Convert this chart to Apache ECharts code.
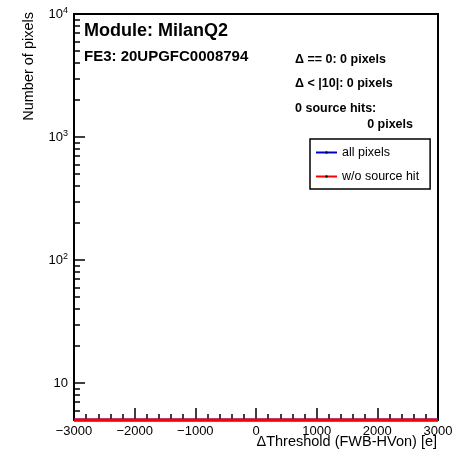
<!DOCTYPE html>
<html>
<head>
<meta charset="utf-8">
<script src="https://cdn.jsdelivr.net/npm/echarts@6/dist/echarts.min.js"></script>
<style>
  html, body { margin: 0; padding: 0; background: #fff; }
  #chart { width: 460px; height: 459px; }
</style>
</head>
<body>
<div id="chart"></div>
<script>
// histogram contents: both histograms are empty
const binEdges = [-3000, -2000, -1000, 0, 1000, 2000, 3000];
const allPixels = [0, 0, 0, 0, 0, 0, 0];
const noSourceHit = [0, 0, 0, 0, 0, 0, 0];

const yMin = 5;
const yMax = 10000;
const yMajorTicks = [10, 100, 1000, 10000];
const yMinorTicks = [
  5, 6, 7, 8, 9,
  20, 30, 40, 50, 60, 70, 80, 90,
  200, 300, 400, 500, 600, 700, 800, 900,
  2000, 3000, 4000, 5000, 6000, 7000, 8000, 9000,
];

const moduleName = 'Module: MilanQ2';
const chipName = 'FE3: 20UPGFC0008794';
const infoLines = ['\u0394 == 0: 0 pixels', '\u0394 < |10|: 0 pixels', '0 source hits:'];
const infoLast = '0 pixels';

const FONT = '"Liberation Sans", Arial, Helvetica, sans-serif';

// empty bins sit on the bottom of a log axis, like ROOT draws them
const toSeries = (counts) => binEdges.map((x, i) => [x, Math.max(counts[i], yMin)]);

const chart = echarts.init(document.getElementById('chart'));

const option = {
  animation: false,
  textStyle: { fontFamily: FONT },
  grid: {
    left: 74,
    right: 22,
    top: 14,
    bottom: 39,
    show: true,
    borderColor: '#000',
    borderWidth: 2,
  },
  legend: {
    left: 310,
    top: 139,
    orient: 'vertical',
    itemWidth: 21,
    itemHeight: 3,
    itemGap: 11,
    padding: [7, 11, 6, 5],
    backgroundColor: '#fff',
    borderColor: '#000',
    borderWidth: 1.5,
    lineStyle: { width: 2 },
    textStyle: { fontFamily: FONT, fontSize: 12.5, color: '#000' },
    data: ['all pixels', 'w/o source hit'],
  },
  xAxis: {
    type: 'value',
    min: -3000,
    max: 3000,
    interval: 1000,
    axisLine: { show: true, onZero: false, lineStyle: { color: '#000', width: 2 } },
    axisTick: { show: true, inside: true, length: 12, lineStyle: { color: '#000', width: 1.5 } },
    minorTick: { show: true, splitNumber: 5, length: 6, lineStyle: { color: '#000', width: 1.5 } },
    axisLabel: {
      color: '#000',
      fontSize: 13,
      margin: 5,
      formatter: (v) => String(v).replace('-', '\u2212'),
    },
    splitLine: { show: false },
  },
  yAxis: [
    {
      type: 'log',
      logBase: 10,
      min: yMin,
      max: yMax,
      axisLine: { show: true, onZero: false, lineStyle: { color: '#000', width: 2 } },
      axisTick: {
        show: true,
        inside: true,
        length: 11,
        customValues: yMajorTicks,
        lineStyle: { color: '#000', width: 1.5 },
      },
      axisLabel: {
        customValues: yMajorTicks,
        margin: 6,
        color: '#000',
        formatter: (v) => {
          const e = Math.round(Math.log10(v));
          return e === 1 ? '{b|10}' : '{b|10}{s|' + e + '}';
        },
        rich: {
          b: { fontSize: 13, color: '#000', fontFamily: FONT },
          s: { fontSize: 9, color: '#000', fontFamily: FONT, verticalAlign: 'top', padding: [0, 0, 6, 0] },
        },
      },
      splitLine: { show: false },
    },
    {
      type: 'log',
      logBase: 10,
      min: yMin,
      max: yMax,
      position: 'left',
      axisLine: { show: false, onZero: false },
      axisTick: {
        show: true,
        inside: true,
        length: 6,
        customValues: yMinorTicks,
        lineStyle: { color: '#000', width: 1.5 },
      },
      axisLabel: { show: false },
      splitLine: { show: false },
    },
  ],
  series: [
    {
      name: 'all pixels',
      type: 'line',
      step: 'end',
      clip: false,
      showSymbol: false,
      symbol: 'circle',
      symbolSize: 3,
      itemStyle: { color: '#000' },
      lineStyle: { color: '#0000cc', width: 3 },
      data: toSeries(allPixels),
    },
    {
      name: 'w/o source hit',
      type: 'line',
      step: 'end',
      clip: false,
      showSymbol: false,
      symbol: 'circle',
      symbolSize: 3,
      itemStyle: { color: '#000' },
      lineStyle: { color: '#ff0000', width: 3 },
      data: toSeries(noSourceHit),
    },
  ],
  graphic: [
    {
      type: 'text',
      x: 29,
      y: 12,
      rotation: Math.PI / 2,
      style: {
        text: 'Number of pixels',
        font: '14.5px ' + FONT,
        fill: '#000',
        align: 'right',
        verticalAlign: 'middle',
      },
    },
    {
      type: 'text',
      x: 437,
      y: 442,
      style: {
        text: '\u0394Threshold (FWB-HVon) [e]',
        font: '14.5px ' + FONT,
        fill: '#000',
        align: 'right',
        verticalAlign: 'middle',
      },
    },
    {
      type: 'text',
      x: 84,
      y: 31,
      style: { text: moduleName, font: 'bold 18px ' + FONT, fill: '#000', verticalAlign: 'middle' },
    },
    {
      type: 'text',
      x: 84,
      y: 57,
      style: { text: chipName, font: 'bold 15px ' + FONT, fill: '#000', verticalAlign: 'middle' },
    },
    {
      type: 'text',
      x: 295,
      y: 60,
      style: { text: infoLines[0], font: 'bold 12.5px ' + FONT, fill: '#000', verticalAlign: 'middle' },
    },
    {
      type: 'text',
      x: 295,
      y: 84,
      style: { text: infoLines[1], font: 'bold 12.5px ' + FONT, fill: '#000', verticalAlign: 'middle' },
    },
    {
      type: 'text',
      x: 295,
      y: 109,
      style: { text: infoLines[2], font: 'bold 12.5px ' + FONT, fill: '#000', verticalAlign: 'middle' },
    },
    {
      type: 'text',
      x: 413,
      y: 125,
      style: { text: infoLast, font: 'bold 12.5px ' + FONT, fill: '#000', align: 'right', verticalAlign: 'middle' },
    },
  ],
};

chart.setOption(option);
</script>
</body>
</html>
